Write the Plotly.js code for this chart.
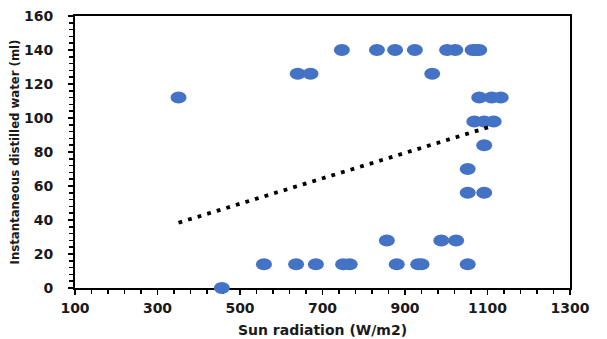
<!DOCTYPE html>
<html>
<head>
<meta charset="utf-8">
<script src="https://cdn.plot.ly/plotly-3.0.1.min.js"></script>
<style>html,body{margin:0;padding:0;background:#fff;}#chart{width:607px;height:339px;}</style>
</head>
<body>
<div id="chart"></div>
<script>
// Sun radiation (W/m2) vs instantaneous distilled water (ml)
var radiation = [351, 456,
  558, 636, 684, 750, 766, 880, 932, 940, 1052,
  856, 988, 1024,
  1052, 1092,
  1052,
  1092,
  1068, 1092, 1115,
  1080, 1110, 1132,
  640, 671, 966,
  747, 832, 876, 924, 1002, 1022, 1064, 1072, 1080];
var water = [112, 0,
  14, 14, 14, 14, 14, 14, 14, 14, 14,
  28, 28, 28,
  56, 56,
  70,
  84,
  98, 98, 98,
  112, 112, 112,
  126, 126, 126,
  140, 140, 140, 140, 140, 140, 140, 140, 140];
// linear trendline end points
var trendX = [351, 1112];
var trendY = [38.4, 95.3];

var xTicks = [100, 300, 500, 700, 900, 1100, 1300];
var yTicks = [0, 20, 40, 60, 80, 100, 120, 140, 160];

var tickFont = {family: 'DejaVu Sans, Arial, sans-serif', size: 14, color: '#1a1a1a', weight: 700};

var data = [
  {x: radiation, y: water, type: 'scatter', mode: 'markers', cliponaxis: false,
   marker: {color: '#4472C4', size: 12, line: {width: 0}}, hoverinfo: 'x+y'},
  {x: trendX, y: trendY, type: 'scatter', mode: 'lines', cliponaxis: false,
   line: {color: '#000000', width: 3.8, dash: '3.8px,6.2px'}, hoverinfo: 'skip'}
];

var layout = {
  width: 607, height: 339,
  margin: {l: 75, r: 37, t: 16, b: 51},
  paper_bgcolor: '#ffffff', plot_bgcolor: '#ffffff',
  showlegend: false,
  xaxis: {
    range: [100, 1300], tickmode: 'array', tickvals: xTicks, ticktext: xTicks.map(String),
    ticks: 'outside', ticklen: 5, tickwidth: 1.5, tickcolor: '#000',
    minor: {dtick: 40, tick0: 100, ticks: 'outside', ticklen: 4, tickwidth: 1.5, tickcolor: '#000', showgrid: false},
    showline: true, linewidth: 2, linecolor: '#000', mirror: true,
    showgrid: false, zeroline: false, layer: 'below traces',
    tickfont: tickFont, ticklabelstandoff: 1,
    title: {text: 'Sun radiation (W/m2)', standoff: 10,
      font: {family: 'DejaVu Sans, Arial, sans-serif', size: 14, color: '#1a1a1a', weight: 700}}
  },
  yaxis: {
    range: [0, 160], tickmode: 'array', tickvals: yTicks, ticktext: yTicks.map(String),
    ticks: 'outside', ticklen: 5, tickwidth: 1.5, tickcolor: '#000',
    minor: {dtick: 4, tick0: 0, ticks: 'outside', ticklen: 4, tickwidth: 1.5, tickcolor: '#000', showgrid: false},
    showline: true, linewidth: 2, linecolor: '#000', mirror: true,
    showgrid: false, zeroline: false, layer: 'below traces',
    tickfont: tickFont, ticklabelstandoff: 12,
    title: {text: 'Instantaneous distilled water (ml)', standoff: 1,
      font: {family: 'Liberation Sans Narrow, DejaVu Sans Condensed, Arial Narrow, sans-serif', size: 13, color: '#1a1a1a', weight: 700}}
  }
};

Plotly.newPlot('chart', data, layout, {staticPlot: true, displayModeBar: false}).then(function () {
  // Excel-style markers are slightly wider than tall: reshape the circle paths into ellipses
  var pts = document.querySelectorAll('#chart .scatterlayer .trace:first-child path.point');
  pts.forEach(function (p) {
    p.setAttribute('d', 'M8,0A8,6 0 1,1 0,-6A8,6 0 0,1 8,0Z');
  });
});
</script>
</body>
</html>
